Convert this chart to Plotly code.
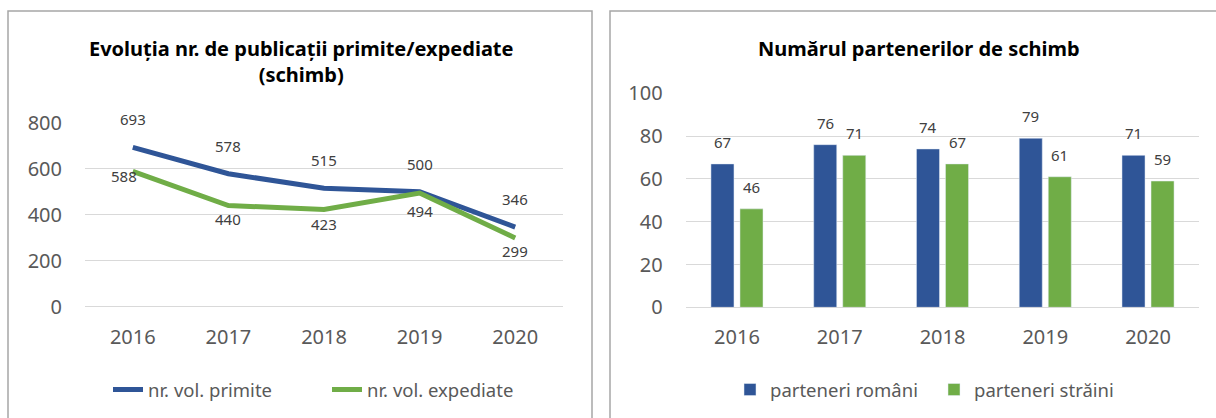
import plotly.graph_objects as go

# data
years = [2016, 2017, 2018, 2019, 2020]
primite = [693, 578, 515, 500, 346]
expediate = [588, 440, 423, 494, 299]
romani = [67, 76, 74, 79, 71]
straini = [46, 71, 67, 61, 59]

# label offsets (pixels) for the data labels on the line chart
primite_dy = [28, 28, 28, 28, 28]
expediate_dy = [-5, -13, -15, -18, -13]
expediate_dx = [-9, 0, 0, 0, 0]

BLUE = "#2F5597"
GREEN = "#70AD47"
GREY = "#595959"
LABEL = "#404040"
GRID = "#D9D9D9"
FONT = "Noto Sans"
W, H = 1216, 418

fig = go.Figure()

fig.add_trace(go.Scatter(x=years, y=primite, mode="lines", name="nr. vol. primite",
                         line=dict(color=BLUE, width=5), xaxis="x", yaxis="y",
                         legend="legend"))
fig.add_trace(go.Scatter(x=years, y=expediate, mode="lines", name="nr. vol. expediate",
                         line=dict(color=GREEN, width=5), xaxis="x", yaxis="y",
                         legend="legend"))

fig.add_trace(go.Bar(x=years, y=romani, name="parteneri români", marker_color=BLUE,
                     xaxis="x2", yaxis="y2", legend="legend2"))
fig.add_trace(go.Bar(x=years, y=straini, name="parteneri străini", marker_color=GREEN,
                     xaxis="x2", yaxis="y2", legend="legend2"))

annotations = []
for yr, v, dy in zip(years, primite, primite_dy):
    annotations.append(dict(x=yr, y=v, xref="x", yref="y", text=str(v), showarrow=False,
                            xanchor="center", yanchor="middle", yshift=dy,
                            font=dict(size=15, color=LABEL)))
for yr, v, dx, dy in zip(years, expediate, expediate_dx, expediate_dy):
    annotations.append(dict(x=yr, y=v, xref="x", yref="y", text=str(v), showarrow=False,
                            xanchor="center", yanchor="middle", xshift=dx, yshift=dy,
                            font=dict(size=15, color=LABEL)))
for vals, dx in ((romani, -14.5), (straini, 14.5)):
    for yr, v in zip(years, vals):
        annotations.append(dict(x=yr, y=v, xref="x2", yref="y2", text=str(v), showarrow=False,
                                xanchor="center", yanchor="middle", xshift=dx, yshift=22,
                                font=dict(size=15, color=LABEL)))

# chart titles
annotations.append(dict(x=301 / W, y=1 - 61.5 / H, xref="paper", yref="paper", showarrow=False,
                        text="<b>Evoluția nr. de publicații primite/expediate<br>(schimb)</b>",
                        font=dict(size=20, color="#000000"), xanchor="center", yanchor="middle"))
annotations.append(dict(x=919 / W, y=1 - 48 / H, xref="paper", yref="paper", showarrow=False,
                        text="<b>Numărul partenerilor de schimb</b>",
                        font=dict(size=20, color="#000000"), xanchor="center", yanchor="middle"))

# chart area borders
shapes = [
    dict(type="rect", xref="paper", yref="paper", x0=8 / W, x1=592 / W, y0=-0.1, y1=1 - 11 / H,
         line=dict(color="#A6A6A6", width=1.5)),
    dict(type="rect", xref="paper", yref="paper", x0=610 / W, x1=1230 / W, y0=-0.1, y1=1 - 11 / H,
         line=dict(color="#A6A6A6", width=1.5)),
]

axis_x = dict(showgrid=False, showline=False, ticks="", zeroline=False, automargin=False,
              range=[2015.5, 2020.5], tickmode="array", tickvals=years,
              tickfont=dict(size=20, color=GREY), ticklabelstandoff=16)
axis_y = dict(showgrid=True, gridcolor=GRID, gridwidth=1, showline=False, ticks="",
              zeroline=True, zerolinecolor=GRID, zerolinewidth=1, automargin=False,
              tickfont=dict(size=20, color=GREY), ticklabelstandoff=22)

fig.update_layout(
    width=W, height=H,
    margin=dict(l=0, r=0, t=0, b=0, autoexpand=False),
    paper_bgcolor="white", plot_bgcolor="white",
    font=dict(family=FONT, color=GREY),
    xaxis=dict(axis_x, domain=[85 / W, 563 / W], anchor="y"),
    yaxis=dict(axis_y, domain=[1 - 306.7 / H, 1 - 122.7 / H], anchor="x",
               range=[0, 800], dtick=200),
    xaxis2=dict(axis_x, domain=[685.6 / W, 1199.4 / W], anchor="y2"),
    yaxis2=dict(axis_y, domain=[1 - 307.3 / H, 1 - 93.3 / H], anchor="x2",
                range=[0, 100], dtick=20),
    barmode="group", bargap=0.435, bargroupgap=0.207,
    legend=dict(orientation="h", x=108 / W, xanchor="left", y=1 - 390 / H, yanchor="middle",
                entrywidth=174, font=dict(size=18.5, color=GREY), bgcolor="rgba(0,0,0,0)"),
    legend2=dict(orientation="h", x=730 / W, xanchor="left", y=1 - 390 / H, yanchor="middle",
                 entrywidth=159, font=dict(size=18.5, color=GREY), bgcolor="rgba(0,0,0,0)"),
    annotations=annotations,
    shapes=shapes,
    showlegend=True,
)

# drop the page's default 8px body margin so the figure sits at the top-left corner
fig.write_html("out.html", config={"displayModeBar": False},
               post_script="document.body.style.margin='0';")
